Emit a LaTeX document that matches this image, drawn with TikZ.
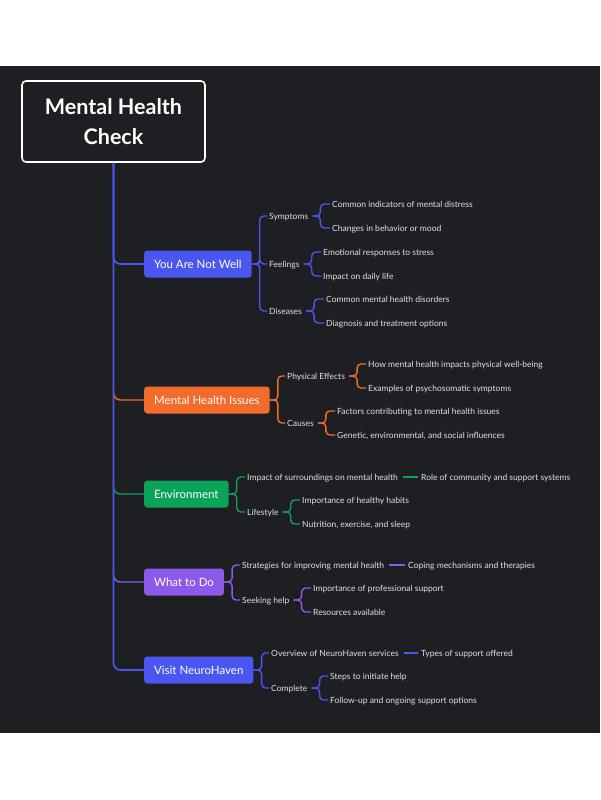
\documentclass[tikz,border=0pt]{standalone}
\usepackage{fontspec}
\setmainfont{Lato}
\usetikzlibrary{positioning,calc}

\definecolor{bgdark}{HTML}{1E1F23}
\definecolor{nwblue}{HTML}{4A56EF}
\definecolor{issorange}{HTML}{F26B2B}
\definecolor{envgreen}{HTML}{0BA35A}
\definecolor{dopurple}{HTML}{8C5AE8}
\definecolor{leaftext}{HTML}{E2E2E4}

\begin{document}
\begin{tikzpicture}[x=1pt,y=-1pt,
    main node/.style={rectangle, rounded corners=3pt, anchor=west, text=white,
      minimum height=27pt, inner xsep=10pt, font=\fontsize{11.5}{13}\selectfont},
    sub node/.style={anchor=west, inner xsep=2pt, inner ysep=0pt, text=leaftext,
      text height=8pt, text depth=1.8pt, font=\fontsize{8.5}{10}\selectfont},
    link/.style={line width=1.4pt, rounded corners=4pt},
    trunk/.style={line width=1.7pt, nwblue, rounded corners=7pt}]

  %% page and dark panel
  \fill[white] (0,0) rectangle (600,800);
  \fill[bgdark] (0,66) rectangle (600,733);
  \useasboundingbox (0,0) rectangle (600,800);

  \node (Title) [draw=white, line width=1.6pt, rounded corners=4pt, fill=bgdark,
    text=white, align=center, minimum width=183pt, minimum height=81pt,
    font=\fontsize{21.5}{30}\selectfont\bfseries] at (113.5,121.5) {Mental Health\\Check};

  %% main branches
  \node (NotWell) [main node, fill=nwblue] at (144,264) {You Are Not Well};
  \node (Issues) [main node, fill=issorange] at (144,400) {Mental Health Issues};
  \node (Env) [main node, fill=envgreen] at (144,494) {Environment};
  \node (ToDo) [main node, fill=dopurple] at (144,582) {What to Do};
  \node (Visit) [main node, fill=nwblue] at (144,670) {Visit NeuroHaven};

  %% You Are Not Well
  \node (Symptoms) [sub node] at (267,216) {Symptoms};
  \node (S1) [sub node] at (330,204) {Common indicators of mental distress};
  \node (S2) [sub node] at (330,228) {Changes in behavior or mood};
  \node (Feelings) [sub node] at (267,264) {Feelings};
  \node (F1) [sub node] at (321,252) {Emotional responses to stress};
  \node (F2) [sub node] at (321,276) {Impact on daily life};
  \node (Diseases) [sub node] at (267,311) {Diseases};
  \node (D1) [sub node] at (324,299) {Common mental health disorders};
  \node (D2) [sub node] at (324,323) {Diagnosis and treatment options};

  %% Mental Health Issues
  \node (Physical) [sub node] at (285,376) {Physical Effects};
  \node (P1) [sub node] at (366,364) {How mental health impacts physical well-being};
  \node (P2) [sub node] at (366,388) {Examples of psychosomatic symptoms};
  \node (Causes) [sub node] at (285,423) {Causes};
  \node (C1) [sub node] at (335,411) {Factors contributing to mental health issues};
  \node (C2) [sub node] at (335,435) {Genetic, environmental, and social influences};

  %% Environment
  \node (Surround) [sub node] at (245,477) {Impact of surroundings on mental health};
  \node (Role) [sub node] at (419,477) {Role of community and support systems};
  \node (Lifestyle) [sub node] at (245,512) {Lifestyle};
  \node (L1) [sub node] at (300,500) {Importance of healthy habits};
  \node (L2) [sub node] at (300,524) {Nutrition, exercise, and sleep};

  %% What to Do
  \node (Strategies) [sub node] at (240,565) {Strategies for improving mental health};
  \node (Coping) [sub node] at (406,565) {Coping mechanisms and therapies};
  \node (Seeking) [sub node] at (240,600) {Seeking help};
  \node (H1) [sub node] at (311,588) {Importance of professional support};
  \node (H2) [sub node] at (311,612) {Resources available};

  %% Visit NeuroHaven
  \node (Overview) [sub node] at (269,653) {Overview of NeuroHaven services};
  \node (Types) [sub node] at (419,653) {Types of support offered};
  \node (Complete) [sub node] at (269,688) {Complete};
  \node (Steps) [sub node] at (328,676) {Steps to initiate help};
  \node (Follow) [sub node] at (328,700) {Follow-up and ongoing support options};

  %% coloured corners off the trunk
  \draw[link, issorange, rounded corners=7pt] ($(Title.south |- Issues.west)+(0,-10)$) |- (Issues.west);
  \draw[link, envgreen, rounded corners=7pt] ($(Title.south |- Env.west)+(0,-10)$) |- (Env.west);
  \draw[link, dopurple, rounded corners=7pt] ($(Title.south |- ToDo.west)+(0,-10)$) |- (ToDo.west);

  %% trunk
  \draw[trunk] (Title.south) |- (NotWell.west);
  \draw[trunk] (Title.south) |- (Visit.west);

  %% brackets
  \foreach \p/\c in {NotWell/Symptoms, NotWell/Feelings, NotWell/Diseases}
    \draw[link, nwblue] (\p.east) -- ++(8,0) |- (\c.west);
  \foreach \p/\c in {Symptoms/S1, Symptoms/S2, Feelings/F1, Feelings/F2, Diseases/D1, Diseases/D2}
    \draw[link, nwblue] ([xshift=2pt]\p.east) -- ++(8,0) |- (\c.west);

  \foreach \p/\c in {Issues/Physical, Issues/Causes}
    \draw[link, issorange] (\p.east) -- ++(8,0) |- (\c.west);
  \foreach \p/\c in {Physical/P1, Physical/P2, Causes/C1, Causes/C2}
    \draw[link, issorange] ([xshift=2pt]\p.east) -- ++(8,0) |- (\c.west);

  \foreach \p/\c in {Env/Surround, Env/Lifestyle}
    \draw[link, envgreen] (\p.east) -- ++(8,0) |- (\c.west);
  \foreach \p/\c in {Lifestyle/L1, Lifestyle/L2}
    \draw[link, envgreen] ([xshift=2pt]\p.east) -- ++(8,0) |- (\c.west);
  \draw[link, envgreen] ([xshift=3pt]Surround.east) -- ([xshift=-1pt]Role.west);

  \foreach \p/\c in {ToDo/Strategies, ToDo/Seeking}
    \draw[link, dopurple] (\p.east) -- ++(8,0) |- (\c.west);
  \foreach \p/\c in {Seeking/H1, Seeking/H2}
    \draw[link, dopurple] ([xshift=2pt]\p.east) -- ++(8,0) |- (\c.west);
  \draw[link, dopurple] ([xshift=3pt]Strategies.east) -- ([xshift=-1pt]Coping.west);

  \foreach \p/\c in {Visit/Overview, Visit/Complete}
    \draw[link, nwblue] (\p.east) -- ++(8,0) |- (\c.west);
  \foreach \p/\c in {Complete/Steps, Complete/Follow}
    \draw[link, nwblue] ([xshift=2pt]\p.east) -- ++(8,0) |- (\c.west);
  \draw[link, nwblue] ([xshift=3pt]Overview.east) -- ([xshift=-1pt]Types.west);

\end{tikzpicture}
\end{document}
